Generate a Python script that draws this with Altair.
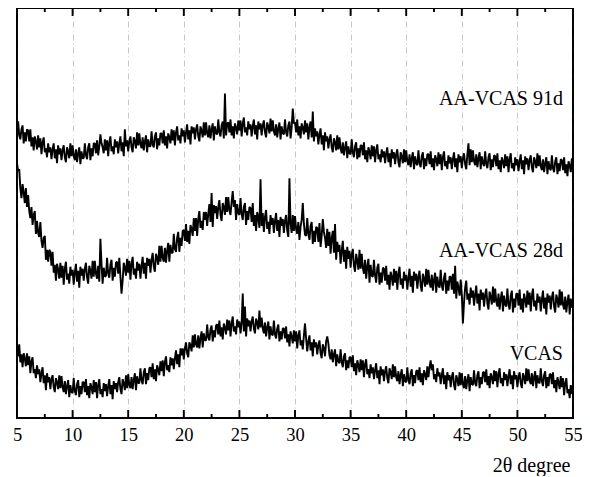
import altair as alt
import numpy as np
import pandas as pd

# 2-theta sampling grid (degrees), 0.1 degree step
two_theta = np.round(np.arange(5.0, 55.0001, 0.1), 2)

vcas = [
    73, 62, 74, 56, 64, 51, 65, 60, 52, 65,
    53, 62, 45, 57, 61, 45, 49, 40, 53, 44,
    49, 36, 45, 51, 35, 43, 28, 45, 36, 41,
    29, 39, 43, 31, 26, 40, 36, 29, 43, 30,
    42, 31, 26, 37, 24, 32, 38, 21, 33, 26,
    25, 40, 27, 23, 34, 38, 21, 32, 24, 36,
    36, 26, 39, 23, 32, 20, 35, 31, 24, 38,
    26, 36, 20, 33, 39, 24, 29, 21, 35, 27,
    34, 22, 32, 39, 24, 33, 19, 37, 29, 35,
    26, 36, 41, 29, 24, 39, 35, 28, 43, 30,
    44, 33, 30, 41, 29, 38, 45, 28, 42, 35,
    35, 50, 38, 34, 46, 50, 34, 45, 38, 50,
    51, 41, 55, 39, 49, 37, 53, 49, 43, 57,
    47, 58, 42, 56, 62, 48, 53, 46, 61, 53,
    60, 49, 60, 68, 54, 64, 51, 70, 63, 70,
    59, 70, 76, 65, 61, 76, 73, 67, 83, 71,
    84, 74, 71, 83, 70, 80, 87, 71, 85, 78,
    78, 94, 81, 78, 89, 93, 77, 88, 81, 93,
    94, 84, 98, 82, 91, 79, 95, 91, 84, 99,
    88, 98, 82, 95, 102, 87, 92, 84, 99, 91,
    97, 85, 95, 125, 87, 112, 82, 100, 92, 98,
    87, 97, 102, 90, 85, 100, 96, 89, 108, 91,
    101, 90, 85, 96, 82, 91, 97, 79, 92, 84,
    83, 98, 84, 80, 90, 94, 77, 87, 79, 90,
    90, 80, 92, 76, 84, 72, 87, 82, 75, 88,
    77, 87, 70, 83, 88, 73, 78, 69, 83, 95,
    80, 67, 77, 83, 68, 76, 62, 79, 71, 76,
    64, 73, 78, 65, 60, 74, 70, 62, 77, 82,
    75, 63, 59, 69, 56, 64, 69, 52, 64, 57,
    55, 69, 56, 51, 62, 65, 48, 58, 50, 61,
    61, 51, 63, 47, 55, 43, 58, 53, 46, 59,
    48, 58, 41, 54, 59, 44, 49, 40, 54, 45,
    51, 39, 48, 55, 40, 48, 34, 52, 43, 49,
    37, 47, 52, 40, 35, 50, 46, 39, 54, 41,
    52, 41, 37, 47, 34, 43, 49, 32, 44, 37,
    36, 51, 38, 34, 45, 49, 32, 43, 35, 47,
    48, 38, 51, 36, 45, 33, 48, 44, 38, 52,
    41, 51, 58, 48, 54, 39, 44, 36, 50, 42,
    46, 34, 43, 50, 34, 43, 29, 46, 38, 43,
    31, 41, 46, 33, 28, 43, 39, 32, 46, 33,
    45, 34, 30, 42, 29, 38, 44, 27, 41, 34,
    33, 48, 35, 32, 43, 47, 30, 41, 34, 46,
    46, 36, 49, 33, 42, 30, 45, 41, 34, 48,
    37, 47, 31, 44, 50, 35, 40, 32, 46, 38,
    44, 32, 42, 49, 34, 43, 29, 47, 39, 43,
    31, 41, 46, 35, 30, 45, 41, 34, 50, 37,
    49, 38, 34, 45, 32, 41, 47, 30, 43, 36,
    35, 50, 37, 32, 43, 47, 30, 41, 32, 44,
    44, 34, 46, 30, 38, 26, 41, 36, 29, 42,
    31, 40, 23, 35, 40, 25, 29, 20, 33, 25,
    24,
]

aa_vcas_28d = [
    256, 248, 250, 231, 221, 235, 227, 216, 231, 212,
    224, 208, 201, 212, 194, 204, 208, 185, 198, 186,
    182, 197, 178, 171, 181, 183, 159, 169, 157, 169,
    167, 153, 167, 146, 154, 138, 155, 149, 140, 156,
    141, 153, 134, 150, 157, 139, 145, 135, 152, 143,
    149, 134, 146, 155, 137, 148, 131, 152, 143, 150,
    138, 150, 156, 141, 135, 153, 148, 140, 158, 142,
    158, 145, 140, 153, 137, 180, 155, 135, 151, 142,
    143, 161, 145, 141, 154, 159, 138, 151, 142, 156,
    157, 145, 161, 142, 125, 138, 156, 151, 143, 160,
    146, 158, 139, 155, 162, 144, 150, 140, 157, 148,
    155, 140, 153, 162, 145, 156, 140, 161, 153, 160,
    146, 159, 166, 152, 147, 165, 161, 154, 173, 157,
    173, 161, 157, 171, 156, 168, 176, 157, 174, 166,
    166, 185, 170, 167, 181, 187, 167, 181, 173, 188,
    189, 178, 195, 177, 188, 175, 194, 190, 183, 201,
    188, 201, 183, 200, 208, 191, 198, 189, 207, 199,
    207, 193, 205, 215, 197, 226, 192, 214, 206, 213,
    200, 212, 219, 204, 198, 216, 212, 204, 222, 207,
    222, 209, 204, 217, 228, 212, 219, 199, 215, 206,
    204, 221, 205, 199, 212, 216, 194, 208, 199, 212,
    211, 197, 216, 193, 204, 188, 207, 201, 191, 240,
    193, 206, 187, 202, 209, 190, 197, 185, 204, 194,
    201, 186, 198, 206, 188, 199, 182, 202, 193, 200,
    186, 198, 204, 188, 182, 241, 195, 186, 204, 188,
    203, 190, 185, 197, 179, 192, 199, 216, 195, 184,
    183, 201, 185, 179, 193, 197, 175, 188, 177, 192,
    191, 177, 196, 172, 183, 200, 187, 181, 171, 190,
    173, 187, 165, 181, 188, 166, 195, 159, 177, 167,
    174, 155, 168, 178, 157, 169, 150, 172, 160, 168,
    151, 164, 170, 153, 147, 165, 158, 149, 169, 150,
    165, 151, 145, 159, 140, 152, 160, 136, 154, 143,
    142, 159, 143, 136, 151, 155, 134, 146, 136, 151,
    150, 138, 153, 134, 144, 129, 147, 142, 133, 150,
    136, 148, 129, 145, 152, 134, 140, 130, 147, 138,
    144, 129, 141, 150, 132, 143, 126, 147, 138, 145,
    130, 142, 148, 133, 127, 145, 140, 132, 150, 134,
    149, 136, 131, 144, 128, 139, 146, 126, 142, 133,
    131, 149, 133, 128, 141, 146, 125, 138, 128, 142,
    142, 129, 145, 125, 153, 120, 137, 131, 123, 139,
    124, 95, 116, 131, 138, 119, 125, 114, 131, 121,
    128, 113, 124, 133, 115, 125, 108, 129, 119, 126,
    112, 124, 130, 115, 109, 127, 122, 114, 132, 116,
    130, 117, 112, 125, 109, 120, 127, 107, 123, 114,
    112, 130, 114, 109, 123, 128, 106, 120, 111, 125,
    125, 113, 129, 109, 120, 106, 125, 119, 111, 128,
    114, 126, 107, 123, 130, 112, 118, 108, 125, 116,
    122, 107, 119, 128, 110, 121, 104, 125, 116, 123,
    109, 121, 127, 112, 106, 124, 119, 111, 129, 113,
    127, 114, 109, 122, 106, 117, 124, 104, 120, 111,
    114,
]

aa_vcas_91d = [
    283, 298, 284, 280, 290, 294, 276, 287, 278, 290,
    289, 278, 290, 273, 282, 269, 283, 278, 270, 284,
    272, 281, 265, 277, 282, 267, 271, 262, 276, 267,
    272, 260, 270, 276, 261, 270, 256, 274, 265, 271,
    259, 269, 274, 262, 257, 272, 268, 261, 276, 263,
    274, 263, 259, 270, 257, 266, 272, 255, 268, 261,
    261, 276, 264, 260, 272, 276, 259, 271, 263, 276,
    276, 266, 279, 264, 273, 285, 276, 272, 266, 280,
    269, 279, 263, 277, 283, 268, 273, 265, 280, 272,
    278, 266, 276, 283, 268, 277, 263, 290, 273, 279,
    268, 278, 283, 272, 267, 282, 278, 271, 287, 274,
    286, 275, 271, 282, 269, 278, 284, 267, 280, 273,
    273, 288, 275, 272, 283, 287, 270, 281, 274, 286,
    286, 276, 289, 274, 283, 271, 286, 282, 276, 290,
    279, 289, 274, 287, 293, 279, 284, 276, 291, 283,
    289, 277, 287, 295, 280, 289, 275, 293, 286, 292,
    280, 290, 295, 283, 278, 293, 289, 282, 297, 284,
    297, 286, 282, 294, 281, 290, 296, 279, 293, 286,
    285, 300, 287, 283, 294, 298, 281, 326, 284, 296,
    297, 287, 300, 284, 293, 281, 296, 292, 285, 299,
    289, 299, 283, 296, 302, 287, 292, 284, 298, 290,
    295, 283, 293, 300, 285, 294, 280, 298, 290, 296,
    284, 294, 299, 287, 282, 297, 293, 286, 301, 288,
    299, 288, 284, 295, 282, 291, 297, 280, 293, 286,
    285, 300, 287, 283, 294, 298, 281, 292, 311, 296,
    297, 287, 300, 284, 293, 281, 296, 292, 285, 299,
    287, 296, 280, 292, 298, 282, 308, 278, 291, 283,
    288, 275, 285, 291, 275, 284, 269, 287, 278, 283,
    271, 280, 285, 272, 267, 281, 277, 269, 284, 270,
    282, 271, 266, 277, 264, 272, 278, 261, 273, 266,
    265, 280, 267, 262, 273, 277, 260, 271, 262, 274,
    274, 264, 277, 260, 269, 257, 272, 268, 260, 274,
    263, 273, 257, 269, 275, 260, 265, 257, 270, 262,
    268, 256, 266, 272, 257, 266, 252, 270, 261, 267,
    255, 265, 270, 257, 252, 267, 263, 256, 270, 257,
    269, 258, 254, 265, 252, 261, 267, 250, 263, 256,
    254, 269, 256, 252, 263, 267, 250, 261, 253, 265,
    265, 255, 268, 252, 261, 249, 264, 260, 253, 267,
    255, 265, 249, 262, 268, 253, 258, 250, 264, 256,
    262, 250, 260, 267, 252, 261, 247, 265, 257, 263,
    251, 261, 266, 255, 250, 265, 276, 254, 270, 257,
    269, 258, 254, 265, 252, 261, 267, 250, 263, 256,
    253, 268, 255, 251, 262, 266, 249, 260, 252, 264,
    263, 253, 266, 250, 259, 247, 262, 258, 251, 265,
    253, 263, 247, 260, 266, 251, 256, 248, 262, 254,
    260, 248, 258, 265, 250, 259, 245, 263, 255, 261,
    249, 259, 264, 252, 247, 262, 258, 251, 266, 253,
    264, 253, 249, 260, 247, 256, 262, 245, 258, 251,
    249, 264, 251, 247, 258, 262, 245, 256, 248, 260,
    259, 249, 262, 246, 255, 243, 258, 254, 247, 261,
    252,
]

series_names = ["VCAS", "AA-VCAS 28d", "AA-VCAS 91d"]
label_x = [54.1, 54.1, 54.1]
label_y = [64, 168, 321]

major_ticks = [5, 10, 15, 20, 25, 30, 35, 40, 45, 50, 55]
minor_ticks = [7.5, 12.5, 17.5, 22.5, 27.5, 32.5, 37.5, 42.5, 47.5, 52.5]

# intensity axis range (arbitrary units) and inward tick lengths in those units
y_min, y_max = 0, 412
major_len, minor_len = 8, 4

# data traces, drawn in their x order
frames = []
for name, vals in zip(series_names, [vcas, aa_vcas_28d, aa_vcas_91d]):
    frames.append(pd.DataFrame({
        "x": two_theta, "y": vals, "series": name, "ord": np.arange(len(vals))
    }))

# the plot frame with its inward ticks, as one closed path through the scales
all_ticks = sorted([(t, major_len) for t in major_ticks] + [(t, minor_len) for t in minor_ticks])
path = []
for t, ln in all_ticks:
    path += [(t, y_min), (t, y_min + ln), (t, y_min)]
for t, ln in reversed(all_ticks):
    path += [(t, y_max), (t, y_max - ln), (t, y_max)]
path.append((all_ticks[0][0], y_min))
frames.append(pd.DataFrame({
    "x": [p[0] for p in path], "y": [p[1] for p in path],
    "series": "frame", "ord": np.arange(len(path)),
}))
df = pd.concat(frames, ignore_index=True)

labels_df = pd.DataFrame({"x": label_x, "y": label_y, "text": series_names})

W, H = 556, 410
FONT = "Liberation Serif"

xscale = alt.Scale(domain=[5, 55], nice=False, zero=False)
yscale = alt.Scale(domain=[y_min, y_max], nice=False, zero=False)

xaxis = alt.Axis(
    values=major_ticks, title="2θ degree", grid=True, gridColor="#c8c8c8",
    gridDash=[6, 3, 1, 3], gridWidth=1, ticks=False, domain=False,
    labelFont=FONT, labelFontSize=18.5, labelColor="black", labelPadding=7,
    labelFlush=False, format="d",
    titleFont=FONT, titleFontSize=20, titleFontWeight="normal", titleColor="black",
    titleAnchor="end", titleAlign="right", titlePadding=12, titleX=W - 3,
)

lines = alt.Chart(df).mark_line(
    color="black", strokeWidth=1.9, strokeJoin="bevel"
).encode(
    x=alt.X("x:Q", scale=xscale, axis=xaxis),
    y=alt.Y("y:Q", scale=yscale, axis=None),
    detail="series:N",
    order="ord:Q",
)

texts = alt.Chart(labels_df).mark_text(
    align="right", baseline="middle", font=FONT, fontSize=20, color="black"
).encode(
    x=alt.X("x:Q", scale=xscale),
    y=alt.Y("y:Q", scale=yscale),
    text="text:N",
)

chart = alt.layer(lines, texts).properties(
    width=W, height=H,
    background="white",
    autosize=alt.AutoSizeParams(type="none"),
    padding={"left": 9, "top": 0, "right": 9, "bottom": 58},
).configure_view(
    stroke="#000000", strokeWidth=1.8
)

chart.save("out.html", embed_options={"renderer": "svg", "actions": False})
